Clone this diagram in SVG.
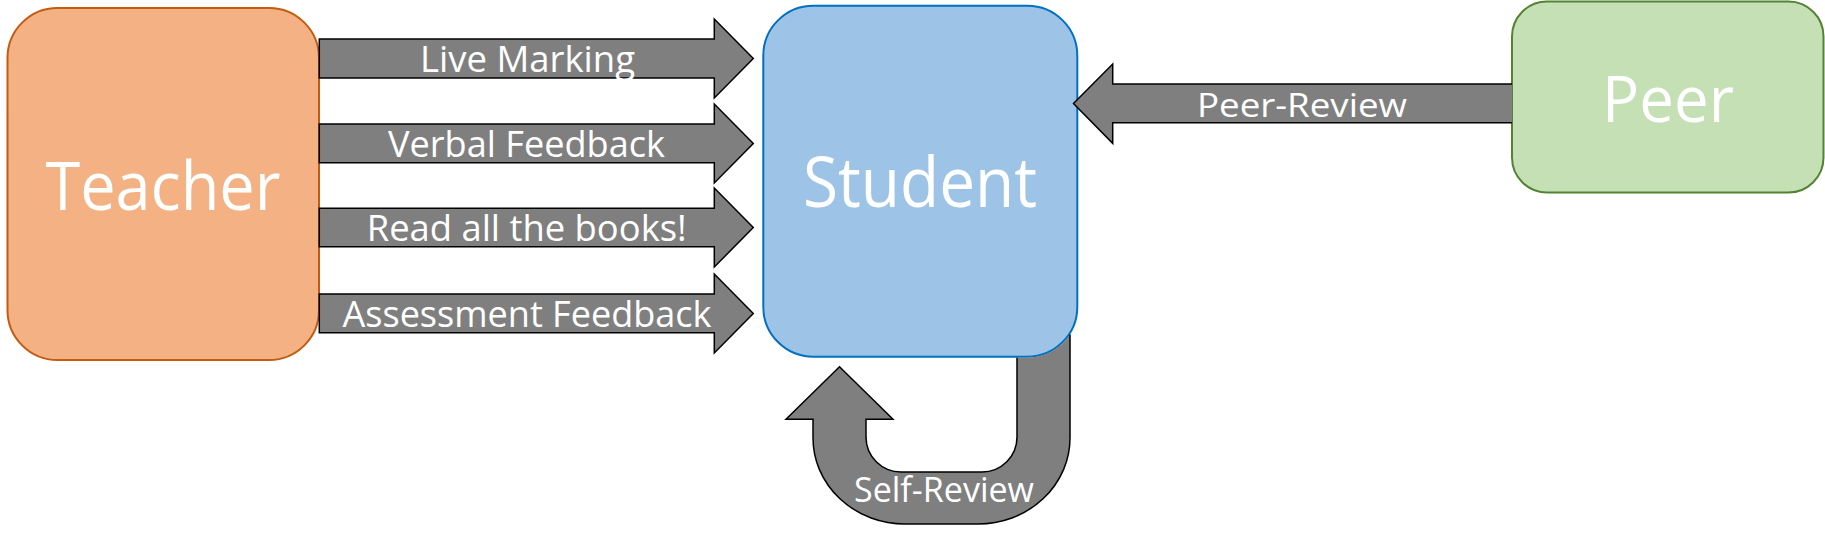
<svg xmlns="http://www.w3.org/2000/svg" width="1825" height="537" viewBox="0 0 1825 537">
<style>
.node{stroke-width:2}
.lbl{font-family:"Open Sans","Noto Sans","Liberation Sans",sans-serif;fill:#fff;text-anchor:middle}
.big{font-size:67px}
.small{font-size:36px}
.arrow{fill:#7F7F7F;stroke:#000;stroke-width:1.5;stroke-linejoin:miter}
.afill{fill:#7F7F7F;stroke:none}
.aline{fill:none;stroke:#000;stroke-width:1.5}
</style>
<rect width="1825" height="537" fill="#fff"/>
<g id="teacher">
<rect class="node" x="7.5" y="8" width="311.5" height="352" rx="50" ry="50" fill="#F4B183" stroke="#C55A11"/>
<text class="lbl big" x="163" y="210" textLength="235" lengthAdjust="spacingAndGlyphs">Teacher</text>
</g>
<g id="student">
<rect class="node" x="763.3" y="5.7" width="314" height="351" rx="50" ry="50" fill="#9DC3E6" stroke="#0070C0"/>
<text class="lbl" style="font-size:70px" x="920" y="206.7" textLength="234" lengthAdjust="spacingAndGlyphs">Student</text>
</g>
<g id="peer">
<rect class="node" x="1512" y="1.5" width="311.5" height="191" rx="35" ry="35" fill="#C5E0B4" stroke="#548235"/>
<text class="lbl" style="font-size:64px" x="1668" y="121.7" textLength="132" lengthAdjust="spacingAndGlyphs">Peer</text>
</g>
<g id="connectors">
<g id="live-marking">
<path class="arrow" d="M319.3,39 H714.3 V19 L753.3,58.5 L714.3,98 V78 H319.3 Z"/>
<text class="lbl small" x="527.5" y="71.7" textLength="215" lengthAdjust="spacingAndGlyphs">Live Marking</text>
</g>
<g id="verbal-feedback">
<path class="arrow" d="M319.3,124 H714.3 V104 L753.3,143.5 L714.3,183 V162.7 H319.3 Z"/>
<text class="lbl small" x="526.5" y="156.7" textLength="277" lengthAdjust="spacingAndGlyphs">Verbal Feedback</text>
</g>
<g id="read-books">
<path class="arrow" d="M319.3,208.3 H714.3 V188 L753.3,227.5 L714.3,267 V246.7 H319.3 Z"/>
<text class="lbl small" x="526.7" y="240.7" textLength="320" lengthAdjust="spacingAndGlyphs">Read all the books!</text>
</g>
<g id="assessment-feedback">
<path class="arrow" d="M319.3,294 H714.3 V274 L753.3,313.5 L714.3,353 V332.7 H319.3 Z"/>
<text class="lbl small" x="527" y="326.7" textLength="369" lengthAdjust="spacingAndGlyphs">Assessment Feedback</text>
</g>
<g id="peer-review">
<path class="arrow" d="M1512,122.7 H1112.7 V143.3 L1073.5,103.5 L1112.7,64 V84 H1512"/>
<text class="lbl" style="font-size:33px" x="1302" y="116.7" textLength="210" lengthAdjust="spacingAndGlyphs">Peer-Review</text>
</g>
<g id="self-review">
<path class="afill" d="M1017,357.7 H1027.3 A51,51 0 0 0 1070,334.6 V438 A92,86 0 0 1 978,524 H905 A92,86 0 0 1 813,438 V419.3 H786 L839.5,366.7 L893,419.3 H866 V437 A35,35 0 0 0 901,472 H982 A35,35 0 0 0 1017,437 Z"/>
<path class="aline" d="M1070,334.6 V438 A92,86 0 0 1 978,524 H905 A92,86 0 0 1 813,438 V419.3 H786 L839.5,366.7 L893,419.3 H866 V437 A35,35 0 0 0 901,472 H982 A35,35 0 0 0 1017,437 V357.7"/>
<text class="lbl" style="font-size:35px" x="944" y="501.7" textLength="180" lengthAdjust="spacingAndGlyphs">Self-Review</text>
</g>
</g>
</svg>
